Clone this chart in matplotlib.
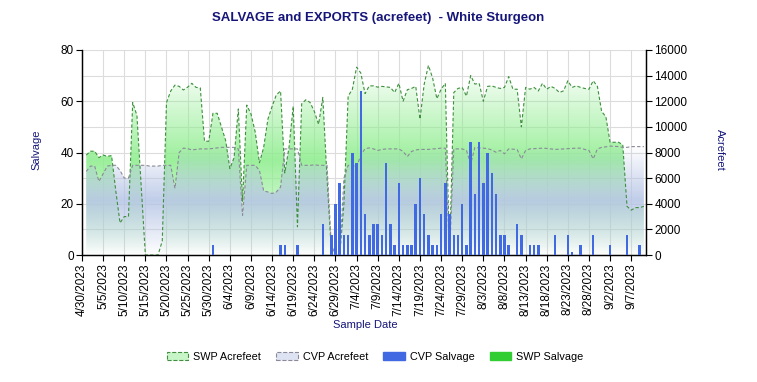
import matplotlib
matplotlib.use("Agg")
import matplotlib.pyplot as plt
import matplotlib.dates as mdates
from matplotlib.patches import Polygon, Patch
import numpy as np
import pandas as pd

plt.rcParams['font.family'] = ['Liberation Sans', 'DejaVu Sans']

# ---------------- data ----------------
start_date = "2023-05-01"

# SWP exports (acrefeet), daily from 5/1/2023
swp_acrefeet = [
    7800, 8100, 8100, 7600, 7800, 7700, 7760, 5000, 2500, 3000,
    3000, 11900, 10900, 5400, 0, 0, 0, 0, 1100, 11900,
    12800, 13260, 13160, 12880, 13100, 13400, 13080, 13040, 8880, 8880,
    11060, 11060, 10000, 8940, 6740, 7600, 11400, 4200, 11700, 11000,
    9600, 7200, 8400, 10600, 11600, 12500, 12800, 6400, 8400, 11600,
    2200, 11800, 12120, 11900, 11200, 10200, 12300, 6000, 400, 0,
    0, 4000, 12400, 12940, 14660, 14200, 12600, 13200, 13200, 13100,
    13160, 13120, 13080, 12680, 13400, 12000, 12900, 13000, 13160, 10600,
    13340, 14800, 13800, 12200, 12940, 13400, 0, 12680, 13000, 13080,
    12400, 14000, 13340, 13400, 12000, 13160, 13200, 13080, 13000, 13080,
    13920, 12940, 12940, 10000, 13080, 12940, 13080, 12800, 13400, 12940,
    13160, 13000, 12680, 12820, 13600, 13080, 13200, 13080, 13000, 12940,
    13600, 13160, 11200, 10800, 8800, 8800, 8800, 8600, 3800, 3500,
    3700, 3700, 3800,
]

# CVP exports (acrefeet), daily from 5/1/2023
cvp_acrefeet = [
    6520, 6940, 6940, 5740, 6340, 6940, 7000, 7000, 6600, 6000,
    6000, 7000, 7000, 7000, 7000, 6940, 6940, 6940, 7000, 7000,
    7000, 5200, 8000, 8340, 8300, 8200, 8240, 8280, 8280, 8280,
    8320, 8360, 8400, 8400, 8400, 8400, 8280, 3100, 7000, 7000,
    7000, 6600, 5000, 4920, 4800, 4920, 5300, 8280, 8280, 8280,
    8280, 7000, 7000, 7000, 7040, 7000, 7000, 7000, 800, 0,
    0, 6000, 7000, 7000, 6860, 7800, 8300, 8360, 8280, 8160,
    8240, 8280, 8280, 8280, 8280, 8080, 7680, 8080, 8200, 8240,
    8240, 8240, 8280, 8300, 8340, 8340, 0, 8280, 8280, 8280,
    8160, 7120, 8400, 8360, 8340, 8300, 8200, 8020, 8160, 7900,
    8280, 8260, 8240, 7500, 8160, 8280, 8300, 8320, 8340, 8320,
    8280, 8240, 8260, 8280, 8300, 8320, 8340, 8340, 8240, 8160,
    7500, 8280, 8400, 8440, 8500, 8480, 8460, 8400, 8400, 8460,
    8460, 8460, 8460,
]

# CVP salvage (fish), sample dates with non-zero salvage
cvp_salvage_dates = [
    "2023-05-31", "2023-06-16", "2023-06-17", "2023-06-20", "2023-06-26",
    "2023-06-28", "2023-06-29", "2023-06-30", "2023-07-01", "2023-07-02",
    "2023-07-03", "2023-07-04", "2023-07-05", "2023-07-06", "2023-07-07",
    "2023-07-08", "2023-07-09", "2023-07-10", "2023-07-11", "2023-07-12",
    "2023-07-13", "2023-07-14", "2023-07-15", "2023-07-16", "2023-07-17",
    "2023-07-18", "2023-07-19", "2023-07-20", "2023-07-21", "2023-07-22",
    "2023-07-23", "2023-07-24", "2023-07-25", "2023-07-26", "2023-07-27",
    "2023-07-28", "2023-07-29", "2023-07-30", "2023-07-31", "2023-08-01",
    "2023-08-02", "2023-08-03", "2023-08-04", "2023-08-05", "2023-08-06",
    "2023-08-07", "2023-08-08", "2023-08-09", "2023-08-11", "2023-08-12",
    "2023-08-14", "2023-08-15", "2023-08-16", "2023-08-20", "2023-08-23",
    "2023-08-24", "2023-08-26", "2023-08-29", "2023-09-02", "2023-09-06",
    "2023-09-09",
]
cvp_salvage = [
    4, 4, 4, 4, 12,
    8, 20, 28, 8, 8,
    40, 36, 64, 16, 8,
    12, 12, 8, 36, 12,
    4, 28, 4, 4, 4,
    20, 30, 16, 8, 4,
    4, 16, 28, 16, 8,
    8, 20, 4, 44, 24,
    44, 28, 40, 32, 24,
    8, 8, 4, 12, 8,
    4, 4, 4, 8, 8,
    1, 4, 8, 4, 8,
    4,
]

# SWP salvage: no non-zero values visible in the period
swp_salvage_dates = []
swp_salvage = []

tick_start, tick_end = "2023-04-30", "2023-09-10"
title = "SALVAGE and EXPORTS (acrefeet)  - White Sturgeon"

# ---------------- figure ----------------
W, H = 757, 382
fig = plt.figure(figsize=(W / 100, H / 100), dpi=100)
L, R, T, B = 82, 646, 50, 255
ax = fig.add_axes([L / W, 1 - B / H, (R - L) / W, (B - T) / H])
ax2 = ax.twinx()
ax.set_zorder(ax2.get_zorder() + 1)
ax.patch.set_visible(False)

dates = pd.date_range(start_date, periods=len(swp_acrefeet), freq="D")
xd = mdates.date2num(dates)


def grad_area(axis, x, y, rgb, amax, zorder):
    y = np.asarray(y, float)
    top = y.max()
    c = top / 2.0
    n = 512
    yy = np.linspace(0, top, n)
    a = amax * (1 - np.abs(yy - c) / c)
    img = np.zeros((n, 1, 4))
    img[:, 0, :3] = rgb
    img[:, 0, 3] = np.clip(a, 0, 1)
    im = axis.imshow(img, extent=[x[0], x[-1], 0, top], origin="lower",
                     aspect="auto", interpolation="bilinear", zorder=zorder)
    verts = [(x[0], 0)] + list(zip(x, y)) + [(x[-1], 0)]
    poly = Polygon(verts, closed=True, facecolor="none", edgecolor="none",
                   transform=axis.transData)
    axis.add_patch(poly)
    im.set_clip_path(poly)


swp_green = (0.56, 0.93, 0.56)
cvp_blue = (0.71, 0.77, 0.90)
grad_area(ax2, xd, swp_acrefeet, swp_green, 0.88, 1)
grad_area(ax2, xd, cvp_acrefeet, cvp_blue, 0.85, 2)
ax2.plot(xd, swp_acrefeet, color="#3f8f3f", lw=0.8, ls=(0, (3, 2)), zorder=3)
ax2.plot(xd, cvp_acrefeet, color="#8a8a9a", lw=0.8, ls=(0, (3, 2)), zorder=3)

# bars (left axis)
ax.bar(mdates.date2num(pd.to_datetime(cvp_salvage_dates)), cvp_salvage,
       width=0.6, color="#4169E1", zorder=4)
if swp_salvage:
    ax.bar(mdates.date2num(pd.to_datetime(swp_salvage_dates)), swp_salvage,
           width=0.6, color="#32CD32", zorder=4)

# axes limits & ticks
x0 = mdates.date2num(pd.Timestamp(tick_start))
x1 = mdates.date2num(pd.Timestamp(tick_end)) + 0.5
ax.set_xlim(x0, x1)
ax2.set_xlim(x0, x1)
ax.set_ylim(0, 80)
ax.set_yticks([0, 20, 40, 60, 80])
ax2.set_ylim(0, 16000)
ax2.set_yticks(np.arange(0, 16001, 2000))

tick_dates = pd.date_range(tick_start, tick_end, freq="5D")
ax.set_xticks(mdates.date2num(tick_dates))
ax.set_xticklabels([f"{d.month}/{d.day}/{d.year}" for d in tick_dates],
                   rotation=90)

# grid (behind fills)
for t in np.arange(2000, 16001, 2000):
    ax2.axhline(t, color="#dcdcdc", lw=0.8, zorder=0)
for t in mdates.date2num(tick_dates)[1:]:
    ax2.axvline(t, color="#dcdcdc", lw=0.8, zorder=0)

for a in (ax, ax2):
    a.spines["top"].set_visible(False)
    for s in ("left", "right", "bottom"):
        a.spines[s].set_color("black")
        a.spines[s].set_linewidth(0.9)
ax.tick_params(axis="both", direction="out", length=4, width=0.8,
               labelsize=8.5, colors="black", pad=2)
ax2.tick_params(axis="y", direction="out", length=4, width=0.8,
                labelsize=8.5, colors="black", pad=2)

navy = "#16167a"
fig.text(378 / W, 1 - 18 / H, title, ha="center", va="center",
         fontsize=9.5, fontweight="bold", color=navy)
fig.text(36 / W, 1 - 150 / H, "Salvage", rotation=90, ha="center",
         va="center", fontsize=8, color=navy)
fig.text(720 / W, 1 - 150 / H, "Acrefeet", rotation=270, ha="center",
         va="center", fontsize=8, color=navy)
fig.text(365 / W, 1 - 325 / H, "Sample Date", ha="center", va="center",
         fontsize=8, color=navy)

handles = [
    Patch(facecolor="#c8f5c8", edgecolor="#3f8f3f", linestyle="--", lw=0.8),
    Patch(facecolor="#dde3f2", edgecolor="#8a8a9a", linestyle="--", lw=0.8),
    Patch(facecolor="#4169E1", edgecolor="#4169E1"),
    Patch(facecolor="#32CD32", edgecolor="#32CD32"),
]
labels = ["SWP Acrefeet", "CVP Acrefeet", "CVP Salvage", "SWP Salvage"]
fig.legend(handles, labels, loc="center", bbox_to_anchor=(375 / W, 1 - 357 / H),
           ncol=4, frameon=False, fontsize=7.8, handlelength=2.0,
           handleheight=0.75, columnspacing=1.4, handletextpad=0.45)

fig.savefig("out.png", dpi=100)
